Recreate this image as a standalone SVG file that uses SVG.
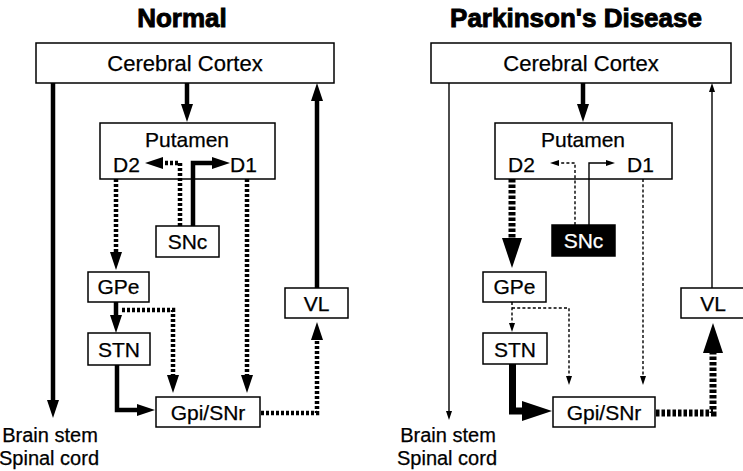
<svg xmlns="http://www.w3.org/2000/svg" width="743" height="471" viewBox="0 0 743 471">
  <style>
    .title { font-family: "Liberation Sans", Arial, sans-serif; font-weight: bold; font-size: 26px; text-anchor: middle; fill: #000; stroke: #000; stroke-width: 0.9; }
    .lbl { font-family: "Liberation Sans", Arial, sans-serif; font-size: 21px; fill: #000; stroke: #000; stroke-width: 0.25; }
    .mid { text-anchor: middle; }
    .box { fill: #fff; stroke: #000; stroke-width: 1.5; }
    .dark { fill: #000; stroke: #000; stroke-width: 1.5; }
    .wt { fill: #fff; stroke: #fff; }
    .ln { fill: none; stroke: #000; stroke-linejoin: miter; }
    .thick { stroke-width: 4.5; }
    .heavy { stroke-width: 7; }
    .thin { stroke-width: 1.4; }
    .dot { stroke-dasharray: 3 2; }
    .dotH { stroke-dasharray: 3.5 2; }
    .dash { stroke-dasharray: 3 2.2; }
  </style>
  <defs>
    <marker id="headL" markerUnits="userSpaceOnUse" viewBox="0 -6 18 12" refX="0" refY="0" markerWidth="18" markerHeight="12" orient="auto" overflow="visible">
      <path d="M0,-6 L18,0 L0,6 z" fill="#000"/>
    </marker>
    <marker id="headS" markerUnits="userSpaceOnUse" viewBox="0 -3 9 6" refX="0" refY="0" markerWidth="9" markerHeight="6" orient="auto" overflow="visible">
      <path d="M0,-3 L9,0 L0,3 z" fill="#000"/>
    </marker>
    <marker id="headH" markerUnits="userSpaceOnUse" viewBox="0 -10 30 20" refX="0" refY="0" markerWidth="30" markerHeight="20" orient="auto" overflow="visible">
      <path d="M0,-10 L30,0 L0,10 z" fill="#000"/>
    </marker>
  </defs>

  <!-- panel titles -->
  <text class="title" x="182" y="27">Normal</text>
  <text class="title" x="576" y="27">Parkinson's Disease</text>

  <!-- normal circuit nodes -->
  <g id="n-cortex">
    <rect class="box" x="36" y="43" width="298" height="40"/>
    <text class="lbl mid" x="185" y="71" style="font-size:22px">Cerebral Cortex</text>
  </g>
  <g id="n-putamen">
    <rect class="box" x="100" y="123" width="175" height="56"/>
    <text class="lbl mid" x="187" y="147">Putamen</text>
    <text class="lbl" x="113" y="172">D2</text>
    <text class="lbl" x="230" y="172">D1</text>
  </g>
  <g id="n-snc">
    <rect class="box" x="156" y="226" width="63" height="31"/>
    <text class="lbl mid" x="187.5" y="249">SNc</text>
  </g>
  <g id="n-gpe">
    <rect class="box" x="88" y="272" width="61" height="30"/>
    <text class="lbl mid" x="118.5" y="294">GPe</text>
  </g>
  <g id="n-stn">
    <rect class="box" x="88" y="333" width="62" height="32"/>
    <text class="lbl mid" x="119" y="357">STN</text>
  </g>
  <g id="n-gpi">
    <rect class="box" x="156" y="397" width="104" height="30"/>
    <text class="lbl mid" x="208" y="420">Gpi/SNr</text>
  </g>
  <g id="n-vl">
    <rect class="box" x="285" y="288" width="63" height="30"/>
    <text class="lbl mid" x="316.5" y="311">VL</text>
  </g>
  <g id="n-brainstem">
    <text class="lbl mid" x="50" y="442" style="font-size:20px">Brain stem</text>
    <text class="lbl mid" x="49" y="465" style="font-size:20px">Spinal cord</text>
  </g>

  <!-- parkinsonian circuit nodes -->
  <g id="p-cortex">
    <rect class="box" x="431" y="43" width="300" height="40"/>
    <text class="lbl mid" x="581" y="71" style="font-size:22px">Cerebral Cortex</text>
  </g>
  <g id="p-putamen">
    <rect class="box" x="495" y="123" width="177" height="56"/>
    <text class="lbl mid" x="583" y="147">Putamen</text>
    <text class="lbl" x="508" y="172">D2</text>
    <text class="lbl" x="627" y="172">D1</text>
  </g>
  <g id="p-snc">
    <rect class="dark" x="552" y="225" width="63" height="31"/>
    <text class="lbl mid wt" x="583.5" y="248">SNc</text>
  </g>
  <g id="p-gpe">
    <rect class="box" x="483" y="272" width="63" height="30"/>
    <text class="lbl mid" x="514.5" y="294">GPe</text>
  </g>
  <g id="p-stn">
    <rect class="box" x="483" y="333" width="64" height="31"/>
    <text class="lbl mid" x="515" y="357">STN</text>
  </g>
  <g id="p-gpi">
    <rect class="box" x="553" y="397" width="102" height="30"/>
    <text class="lbl mid" x="604" y="420">Gpi/SNr</text>
  </g>
  <g id="p-vl">
    <rect class="box" x="681" y="288" width="80" height="30"/>
    <text class="lbl mid" x="713" y="311">VL</text>
  </g>
  <g id="p-brainstem">
    <text class="lbl mid" x="448" y="442" style="font-size:20px">Brain stem</text>
    <text class="lbl mid" x="447" y="465" style="font-size:20px">Spinal cord</text>
  </g>

  <!-- connectors: normal circuit -->
  <g id="connectors-normal">
    <path class="ln thick" d="M53,83 V400" marker-end="url(#headL)"/>
    <path class="ln thick" d="M187,83 V104" marker-end="url(#headL)"/>
    <path class="ln thick" d="M317,288 V101" marker-end="url(#headL)"/>
    <path class="ln thick dot" d="M180,226 V163 H163" marker-end="url(#headL)"/>
    <path class="ln thick" d="M193,226 V163 H212" marker-end="url(#headL)"/>
    <path class="ln thick dot" d="M116,179 V252" marker-end="url(#headL)"/>
    <path class="ln thick dot" d="M247,179 V375" marker-end="url(#headL)"/>
    <path class="ln thick" d="M116,302 V315" marker-end="url(#headL)"/>
    <path class="ln thick dot" d="M122,310 H173 V375" marker-end="url(#headL)"/>
    <path class="ln thick" d="M117,365 V410 H137" marker-end="url(#headL)"/>
    <path class="ln thick dot" d="M261,413 H317 V340" marker-end="url(#headL)"/>
  </g>

  <!-- connectors: parkinsonian circuit -->
  <g id="connectors-pd">
    <path class="ln thin" d="M449,83 V411" marker-end="url(#headS)"/>
    <path class="ln thick" d="M583,83 V104" marker-end="url(#headL)"/>
    <path class="ln thin" d="M712,288 V92" marker-end="url(#headS)"/>
    <path class="ln thin dash" d="M575,225 V163 H559" marker-end="url(#headS)"/>
    <path class="ln thin" d="M589,225 V163 H606" marker-end="url(#headS)"/>
    <path class="ln heavy dotH" d="M512,179 V238" marker-end="url(#headH)"/>
    <path class="ln thin dash" d="M643,179 V376" marker-end="url(#headS)"/>
    <path class="ln thin dash" d="M512,302 V323" marker-end="url(#headS)"/>
    <path class="ln thin dash" d="M512,308 H569 V376" marker-end="url(#headS)"/>
    <path class="ln heavy" d="M512.5,364 V411 H522" marker-end="url(#headH)"/>
    <path class="ln heavy dotH" d="M656,413 H713 V353" marker-end="url(#headH)"/>
  </g>
</svg>
